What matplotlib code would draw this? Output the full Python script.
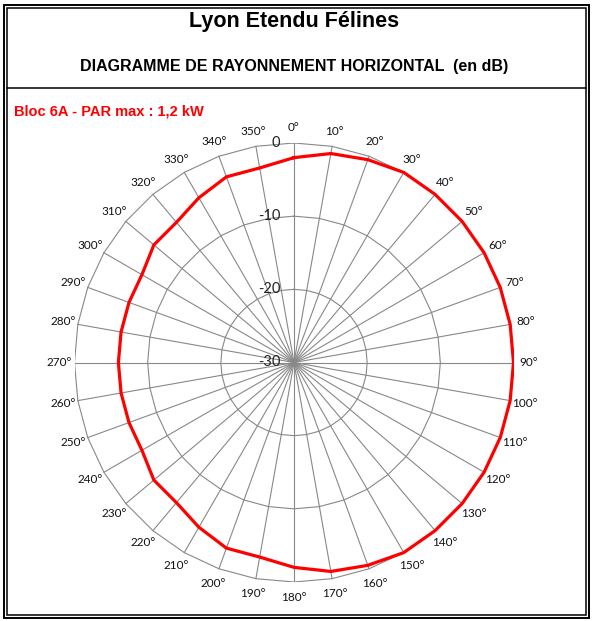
import numpy as np
import matplotlib
matplotlib.use('Agg')
import matplotlib.pyplot as plt

W, H = 592, 621
DPI = 100

angles = list(range(0, 360, 10))
# attenuation in dB
att = [-2, -1, -0.5, 0, 0, 0, 0, 0, 0, 0,
       0, 0, 0, 0, 0, 0, -0.5, -1, -2, -3,
       -3, -4, -5, -5, -6, -6, -6, -6, -6, -6,
       -6, -5, -5, -4, -3, -3]
rings = [-30, -20, -10, 0]
angle_labels = ['%d°' % a for a in angles]

title = 'Lyon Etendu Félines'
subtitle = 'DIAGRAMME DE RAYONNEMENT HORIZONTAL  (en dB)'
bloc = 'Bloc 6A - PAR max : 1,2 kW'

fig = plt.figure(figsize=(W / DPI, H / DPI), dpi=DPI)

# background axes in pixel units for frame + headers
bg = fig.add_axes([0, 0, 1, 1])
bg.set_xlim(0, W)
bg.set_ylim(H, 0)
bg.axis('off')
bg.add_patch(plt.Rectangle((3.5, 4.5), 585, 613.5, fill=False, ec='black', lw=1.4))
bg.add_patch(plt.Rectangle((6.5, 7.5), 579, 607.5, fill=False, ec='black', lw=1.1))
bg.plot([6.5, 585.5], [87.5, 87.5], color='black', lw=1.1)
bg.text(294, 22, title, ha='center', va='center', fontsize=15.5,
        fontweight='bold', family='Liberation Sans')
bg.text(294, 67, subtitle, ha='center', va='center', fontsize=11.5,
        fontweight='bold', family='Liberation Sans')
bg.text(14, 111, bloc, ha='left', va='center', fontsize=10.5,
        fontweight='bold', family='Liberation Sans', color='#ff0000')

# radar axes: centre (294, 362.5) px, outer ring radius 219.5 px
cx, cy, R = 294, 362.5, 219.5
ax = fig.add_axes([(cx - R) / W, (H - cy - R) / H, 2 * R / W, 2 * R / H])
ax.set_xlim(-30, 30)
ax.set_ylim(-30, 30)
ax.axis('off')

th = np.radians(angles)
span = rings[-1] - rings[0]

# polygon rings
for lev in rings[1:]:
    r = lev - rings[0]
    xs = np.append(r * np.sin(th), r * np.sin(th[0]))
    ys = np.append(r * np.cos(th), r * np.cos(th[0]))
    ax.plot(xs, ys, color='#888888', lw=0.8, zorder=1)

# spokes
for t in th:
    ax.plot([0, span * np.sin(t)], [0, span * np.cos(t)], color='#888888', lw=0.8, zorder=1)

# ring labels
for lev in rings:
    r = lev - rings[0]
    ax.text(-1.9, r, '%d' % lev, ha='right', va='center', fontsize=10.5,
            family='Lato', color='#222222', zorder=3)

# angle labels
for t, lab in zip(th, angle_labels):
    rr = span * 1.07
    ax.text(rr * np.sin(t), rr * np.cos(t), lab, ha='center', va='center',
            fontsize=8.5, family='Lato', color='#111111', clip_on=False)

# pattern
rv = np.array(att) - rings[0]
xs = np.append(rv * np.sin(th), rv[0] * np.sin(th[0]))
ys = np.append(rv * np.cos(th), rv[0] * np.cos(th[0]))
ax.plot(xs, ys, color='#ff0000', lw=2.3, zorder=4, solid_joinstyle='miter')

fig.savefig('out.png', dpi=DPI)
